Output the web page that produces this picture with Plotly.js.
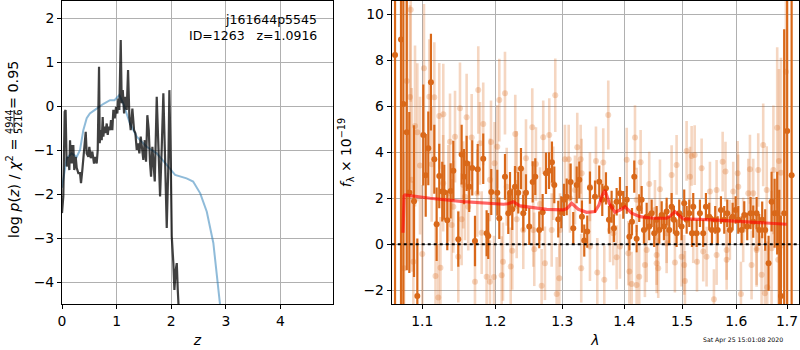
<!DOCTYPE html>
<html>
<head>
<meta charset="utf-8">
<script src="https://cdn.plot.ly/plotly-3.0.1.min.js"></script>
<style>html,body{margin:0;padding:0;background:#fff;}#chart{width:800px;height:350px;}</style>
</head>
<body>
<div id="chart"></div>
<script>
// ---------- Left panel: p(z) ----------
const zPz = [0.000,0.024,0.049,0.066,0.086,0.115,0.134,0.147,0.165,0.183,0.196,0.207,0.225,0.251,0.269,0.299,0.330,0.348,0.372,0.403,0.434,0.452,0.482,0.500,0.526,0.555,0.586,0.610,0.635,0.654,0.678,0.690,0.709,0.727,0.745,0.757,0.775,0.793,0.819,0.837,0.855,0.879,0.897,0.921,0.940,0.965,0.989,1.013,1.031,1.049,1.075,1.093,1.112,1.136,1.154,1.185,1.209,1.233,1.258,1.288,1.319,1.343,1.368,1.392,1.416,1.441,1.465,1.489,1.515,1.538,1.562,1.588,1.612,1.630,1.654,1.672,1.698,1.734,1.758,1.795,1.826,1.855,1.881,1.917,1.947,1.965,1.991,2.009,2.038,2.057,2.082,2.101,2.119,2.137];
const logPz = [-2.43,-2.05,-0.12,-0.08,-1.37,-1.15,-1.45,-0.77,-1.30,-0.88,-1.30,-0.88,-1.45,-1.15,-1.40,-1.52,-1.52,-1.75,-1.45,-1.07,-0.58,-1.07,-1.15,-0.92,-1.18,-1.03,-1.30,-1.15,-1.30,-0.99,0.90,-0.84,-0.54,-0.77,-0.24,-0.69,-0.46,-0.61,-0.39,-0.65,-0.46,-0.54,-0.31,-0.54,-0.08,-0.27,-0.01,-0.16,0.18,-0.08,1.51,0.07,0.37,-0.16,0.22,-0.08,0.83,-0.24,-0.54,-0.05,-0.54,-0.61,-0.99,-0.84,-1.07,-0.69,-0.99,-1.22,-0.77,-1.26,-0.20,-0.54,-1.30,-1.60,-0.92,-1.30,-1.71,0.22,-0.77,-2.05,-0.92,0.30,-0.92,-2.77,-1.30,0.37,-1.30,-2.96,-3.57,-4.18,-3.72,-3.57,-4.18,-4.63];

const zPrior = [0.000,0.020,0.086,0.177,0.269,0.330,0.390,0.452,0.510,0.635,0.760,0.879,0.960,1.050,1.120,1.245,1.368,1.550,1.734,1.917,2.070,2.280,2.400,2.530,2.650,2.770,2.840,2.900];
const logPrior = [-1.85,-1.71,-1.18,-1.07,-1.15,-0.99,-0.54,-0.27,-0.16,-0.05,0.06,0.14,0.14,0.26,0.07,-0.39,-0.69,-0.92,-1.07,-1.33,-1.56,-1.64,-1.71,-1.98,-2.40,-3.11,-3.87,-4.60];

const zTicks = [0,1,2,3,4];
const pTicks = [-4,-3,-2,-1,0,1,2];

// ---------- Right panel: spectrum ----------
const wDark = [1.0648,1.0724,1.0754,1.0798,1.0831,1.0892,1.0935,1.1013,1.1045,1.1079,1.1114,1.1159,1.1190,1.1225,1.1265,1.1292,1.1333,1.1379,1.1415,1.1483,1.1529,1.1561,1.1598,1.1634,1.1676,1.1714,1.1752,1.1830,1.1878,1.1901,1.1944,1.2030,1.2059,1.2141,1.2189,1.2214,1.2247,1.2287,1.2335,1.2375,1.2409,1.2449,1.2498,1.2549,1.2588,1.2648,1.2699,1.2750,1.2796,1.2841,1.2877,1.2938,1.2985,1.3027,1.3069,1.3131,1.3172,1.3226,1.3267,1.3309,1.3346,1.3394,1.3437,1.3518,1.3587,1.3636,1.3696,1.3745,1.3789,1.3827,1.3872,1.3927,1.3982,1.4040,1.4084,1.4128,1.4167,1.4207,1.4251,1.4292,1.4331,1.4378,1.4422,1.4464,1.4508,1.4550,1.4596,1.4638,1.4678,1.4725,1.4771,1.4813,1.4853,1.4901,1.4948,1.4990,1.5037,1.5081,1.5128,1.5177,1.5200,1.5262,1.5322,1.5382,1.5432,1.5493,1.5543,1.5604,1.5650,1.5711,1.5773,1.5830,1.5880,1.5932,1.5989,1.6039,1.6104,1.6154,1.6212,1.6277,1.6328,1.6394,1.6445,1.6504,1.6563,1.6630,1.6690,1.6750,1.6802,1.6843,1.6877,1.6943,1.7003,1.7094];
const fDark = [8.23,8.9,6.1,4.87,2.25,1.87,-2.25,4.75,3.0,4.17,7.05,3.7,0.87,2.97,2.29,2.26,1.04,2.32,3.2,0.22,3.9,2.94,3.52,2.5,3.32,0.14,3.26,3.72,0.48,0.36,2.27,2.24,1.13,2.93,1.35,2.24,1.52,2.5,2.24,3.29,1.35,2.24,0.77,2.71,2.94,0.62,1.39,3.09,3.2,3.57,2.58,1.09,1.39,1.93,2.06,2.71,0.7,2.58,2.8,1.2,0.16,0.55,2.46,2.07,2.72,1.93,2.43,1.06,1.63,0.7,1.85,2.22,1.71,1.93,0.33,0.98,2.94,0.24,1.57,1.93,0.62,1.2,0.77,1.35,0.48,1.06,0.62,1.27,0.77,1.42,0.62,1.63,1.06,0.48,1.35,0.77,1.78,1.06,1.35,0.48,1.63,0.48,1.35,0.48,1.63,1.2,0.62,1.06,0.62,1.49,1.06,1.35,0.62,1.2,1.49,1.06,0.62,1.27,0.77,1.35,0.98,1.35,0.62,1.06,0.62,-0.83,1.85,1.35,1.35,-0.13,-2.25,1.35,4.93,3.0];
const eDark = [12,12,12,6,3.5,3.3,2.5,2.2,1.8,1.6,2.1,1.5,1.6,1.4,1.3,1.2,1.3,1.2,1.3,1.2,1.3,1.2,1.2,1.1,1.2,1.1,1.1,1.1,1.0,1.0,1.0,1.0,0.9,1.0,0.9,0.9,0.9,0.9,0.9,0.9,0.8,0.8,0.8,0.9,0.8,0.8,0.8,0.9,0.8,0.9,0.8,0.8,0.7,0.7,0.8,0.8,0.7,0.8,0.8,0.7,0.7,0.7,0.7,0.7,0.7,0.7,0.7,0.6,0.7,0.6,0.6,0.7,0.6,0.6,0.6,0.6,0.7,0.6,0.6,0.6,0.6,0.6,0.6,0.6,0.6,0.6,0.6,0.6,0.6,0.6,0.6,0.6,0.6,0.6,0.6,0.6,0.6,0.6,0.6,0.6,0.6,0.6,0.6,0.6,0.6,0.6,0.6,0.6,0.6,0.6,0.6,0.6,0.6,0.6,0.6,0.6,0.6,0.6,0.6,0.7,0.7,0.7,0.7,0.8,0.9,1.2,1.3,1.5,1.8,2.5,3.5,8,15,15];

const wLight = [1.0763,1.0798,1.0840,1.0849,1.0862,1.0883,1.0905,1.0935,1.0970,1.1000,1.1022,1.1092,1.1124,1.1159,1.1175,1.1212,1.1225,1.1241,1.1279,1.1347,1.1370,1.1415,1.1438,1.1483,1.1506,1.1529,1.1551,1.1598,1.1620,1.1668,1.1714,1.1746,1.1760,1.1784,1.1808,1.1830,1.1878,1.1925,1.1940,1.1983,1.2030,1.2059,1.2093,1.2112,1.2141,1.2166,1.2224,1.2247,1.2291,1.2312,1.2409,1.2449,1.2543,1.2573,1.2598,1.2659,1.2684,1.2708,1.2800,1.2837,1.2892,1.2914,1.2954,1.3042,1.3100,1.3120,1.3235,1.3289,1.3298,1.3437,1.3534,1.3555,1.3652,1.3669,1.3734,1.3762,1.3872,1.3927,1.4040,1.4084,1.4123,1.4179,1.4207,1.4251,1.4275,1.4348,1.4422,1.4521,1.4550,1.4578,1.4608,1.4725,1.4813,1.4871,1.4901,1.5037,1.5050,1.5080,1.5140,1.5171,1.5226,1.5268,1.5353,1.5382,1.5506,1.5580,1.5630,1.5743,1.5796,1.5818,1.5880,1.5943,1.6027,1.6090,1.6134,1.6264,1.6296,1.6328,1.6394,1.6426,1.6492,1.6524,1.6557,1.6603,1.6690,1.6726,1.6802,1.6837,1.6877,1.6978,
  1.1278,1.1393,1.1574,1.1925,1.1991,1.2312,1.2409,1.2558,1.2734,1.2861,1.2965,1.3199,1.3305,1.3437,1.3816,1.4066,1.4207,1.4378,1.4550,1.4725,1.4990,1.5200,1.5444,1.5630,1.5818,1.6039,1.6232,1.6394,1.6593,1.6823];
const fLight = [-1.04,7.1,6.4,10.2,2.8,-0.76,5.14,4.87,3.42,-0.42,7.65,6.42,3.48,6.39,-1.38,-2.32,5.58,-1.02,5.65,2.22,4.46,1.63,4.68,-0.54,5.91,1.09,2.58,5.52,1.63,4.64,-1.63,2.22,6.71,4.39,0.5,5.23,-1.41,-1.63,4.45,-1.43,4.24,6.27,-1.35,-0.76,6.57,2.5,-0.97,-0.28,4.8,1.09,0.62,3.74,5.09,-0.22,3.49,1.75,-1.81,4.65,4.75,0.62,6.48,-2.16,-1.48,3.7,3.7,2.0,4.22,3.7,-1.04,2.5,3.62,-1.23,3.55,-1.55,5.62,0.62,-0.57,-0.1,3.67,-1.19,-1.73,4.64,-1.77,-1.41,3.57,-0.9,2.62,1.49,-0.47,-1.04,2.39,0.48,3.01,-0.8,3.45,-0.9,-1.6,4.06,2.94,3.84,3.88,-0.76,3.3,-0.32,2.29,-2.39,-0.47,3.59,3.16,-0.68,0.62,2.29,3.09,-2.16,0.62,3.26,-0.9,2.22,-0.17,3.23,-1.33,4.32,-2.13,-1.87,-0.17,3.23,5.07,3.62,3.11,7.5,
  2.65,0.84,2.07,2.8,3.52,3.23,1.63,0.62,-0.83,2.65,0.62,2.36,3.09,-0.1,0.48,-0.39,1.93,-0.25,-0.83,0.04,-0.54,0.48,-0.54,2.36,-0.25,2.5,2.22,-0.25,2.36,-0.68];
const eLight = [5,5,4,4,4,3.5,3.5,3,3,3,2.8,2.5,2.5,2.4,2.4,2.3,2.3,2.2,2.2,2.1,2.1,2.0,2.0,2.0,2.0,2.0,1.9,1.9,1.9,1.9,1.9,1.9,1.9,1.8,1.8,1.8,1.8,1.8,1.8,1.8,1.8,1.8,1.7,1.7,1.8,1.7,1.7,1.7,1.7,1.7,1.7,1.7,1.7,1.6,1.6,1.6,1.6,1.6,1.6,1.6,1.6,1.6,1.5,1.5,1.5,1.5,1.5,1.5,1.5,1.5,1.5,1.5,1.5,1.5,1.5,1.4,1.4,1.4,1.4,1.4,1.4,1.4,1.4,1.4,1.4,1.4,1.4,1.3,1.3,1.3,1.3,1.3,1.3,1.3,1.3,1.3,1.3,1.3,1.3,1.3,1.3,1.3,1.3,1.3,1.3,1.3,1.3,1.3,1.3,1.3,1.3,1.3,1.4,1.4,1.4,1.5,1.5,1.5,1.6,1.6,1.7,1.8,1.9,2.0,2.5,2.8,3.5,4,5,6,
  2.1,2.0,1.9,1.8,1.8,1.7,1.7,1.6,1.6,1.6,1.6,1.5,1.5,1.5,1.4,1.4,1.4,1.4,1.3,1.3,1.3,1.3,1.3,1.3,1.3,1.4,1.5,1.6,1.9,3];

const wModel = [1.0750,1.0763,1.0776,1.1101,1.1551,1.2021,1.2117,1.2185,1.2262,1.2361,1.2508,1.2761,1.3016,1.3073,1.3147,1.3251,1.3384,1.3518,1.3582,1.3626,1.3680,1.3750,1.3844,1.3927,1.4010,1.4123,1.4263,1.4491,1.4725,1.4800,1.4871,1.4941,1.5019,1.5567,1.6201,1.6992];
const fModel = [0.5,2.1,2.14,2.0,1.85,1.74,1.74,1.76,1.85,1.67,1.61,1.52,1.49,1.55,1.78,1.52,1.39,1.42,1.7,2.07,2.36,1.78,1.39,1.49,1.63,1.35,1.2,1.13,1.13,1.25,1.42,1.25,1.1,1.06,0.98,0.87];

const wTicks = [1.1,1.2,1.3,1.4,1.5,1.6,1.7];
const wTickText = ['1.1','1.2','1.3','1.4','1.5','1.6','1.7'];
const fTicks = [-2,0,2,4,6,8,10];

const ORANGE = 'rgb(217,104,25)';
const ORANGE_LIGHT = 'rgba(217,104,25,0.27)';
const FONT = 'DejaVu Sans';

const traces = [
  {x: zPrior, y: logPrior, xaxis:'x', yaxis:'y', mode:'lines', line:{color:'rgba(31,119,180,0.5)', width:2}, hoverinfo:'skip'},
  {x: zPz, y: logPz, xaxis:'x', yaxis:'y', mode:'lines', line:{color:'rgba(0,0,0,0.75)', width:2.2}, hoverinfo:'skip'},
  {x: wLight, y: fLight, xaxis:'x2', yaxis:'y2', mode:'markers',
   marker:{color:ORANGE_LIGHT, size:6},
   error_y:{type:'data', array:eLight, visible:true, color:ORANGE_LIGHT, thickness:2.6, width:0}},
  {x: wDark, y: fDark, xaxis:'x2', yaxis:'y2', mode:'markers',
   marker:{color:ORANGE, size:6},
   error_y:{type:'data', array:eDark, visible:true, color:ORANGE, thickness:2.2, width:0}},
  {x: wModel, y: fModel, xaxis:'x2', yaxis:'y2', mode:'lines', line:{color:'rgba(255,0,0,0.6)', width:3.2}}
];

// plot-area geometry helpers for paper coordinates (margins l=62, t=1, plot 737 x 303)
function px(x){ return (x-62)/737; }
function py(y){ return 1-(y-1)/303; }

const axCommon = {
  showgrid:true, gridcolor:'#b0b0b0', gridwidth:1,
  showline:true, linecolor:'black', linewidth:1, mirror:true,
  ticks:'outside', ticklen:4, tickwidth:1, tickcolor:'black',
  tickfont:{family:FONT, size:13.9, color:'black'},
  zeroline:false
};

const layout = {
  width:800, height:350,
  margin:{l:62, r:1, t:1, b:46},
  paper_bgcolor:'white', plot_bgcolor:'white',
  showlegend:false,
  font:{family:FONT, size:13.9, color:'black'},
  xaxis: Object.assign({}, axCommon, {domain:[0,0.3677], range:[0,4.96], tickvals:zTicks, anchor:'y',
    title:{text:'<i>z</i>', font:{family:FONT, size:13.9}, standoff:7}}),
  yaxis: Object.assign({}, axCommon, {domain:[0,1], range:[-4.5,2.4], tickvals:pTicks, anchor:'x'}),
  xaxis2: Object.assign({}, axCommon, {domain:[0.4474,1], type:'log', range:[0.025551,0.236663], tickvals:wTicks, ticktext:wTickText, anchor:'y2',
    title:{text:'<i>λ</i>', font:{family:FONT, size:13.9}, standoff:7}}),
  yaxis2: Object.assign({}, axCommon, {domain:[0,1], range:[-2.6,10.58], tickvals:fTicks, anchor:'x2',
    title:{text:'<i>f</i><sub>λ</sub> × 10<sup>−19</sup>', font:{family:FONT, size:13.9}, standoff:8}}),
  shapes:[
    {type:'line', xref:'x2 domain', yref:'y2', x0:0, x1:1, y0:0, y1:0, layer:'above',
     line:{color:'black', width:2, dash:'dot'}},
    {type:'line', xref:'paper', yref:'paper', x0:px(14), x1:px(14), y0:py(110), y1:py(132),
     line:{color:'black', width:0.8}}
  ],
  annotations:[
    {xref:'paper', yref:'paper', x:px(319), y:py(20), xanchor:'right', yanchor:'middle', showarrow:false,
     text:'j161644p5545', font:{family:FONT, size:12.5, color:'black'}},
    {xref:'paper', yref:'paper', x:px(319), y:py(35), xanchor:'right', yanchor:'middle', showarrow:false,
     text:'ID=1263\u00a0\u00a0\u00a0z=1.0916', font:{family:FONT, size:12.5, color:'black'}},
    {xref:'paper', yref:'paper', x:px(13), y:py(189), xanchor:'center', yanchor:'middle', showarrow:false, textangle:-90,
     text:'log <i>p</i>(<i>z</i>) / <i>χ</i><sup>2</sup> =', font:{family:FONT, size:14.3, color:'black'}},
    {xref:'paper', yref:'paper', x:px(9.5), y:py(121.5), xanchor:'center', yanchor:'middle', showarrow:false, textangle:-90,
     text:'4944', font:{family:FONT, size:9.7, color:'black'}},
    {xref:'paper', yref:'paper', x:px(18.5), y:py(121.5), xanchor:'center', yanchor:'middle', showarrow:false, textangle:-90,
     text:'5216', font:{family:FONT, size:9.7, color:'black'}},
    {xref:'paper', yref:'paper', x:px(13), y:py(85), xanchor:'center', yanchor:'middle', showarrow:false, textangle:-90,
     text:'= 0.95', font:{family:FONT, size:14.3, color:'black'}},
    {xref:'paper', yref:'paper', x:px(743), y:py(340), xanchor:'center', yanchor:'middle', showarrow:false,
     text:'Sat Apr 25 15:01:08 2020', font:{family:FONT, size:6.2, color:'black'}}
  ]
};

Plotly.newPlot('chart', traces, layout, {staticPlot:true, displayModeBar:false});
</script>
</body>
</html>
